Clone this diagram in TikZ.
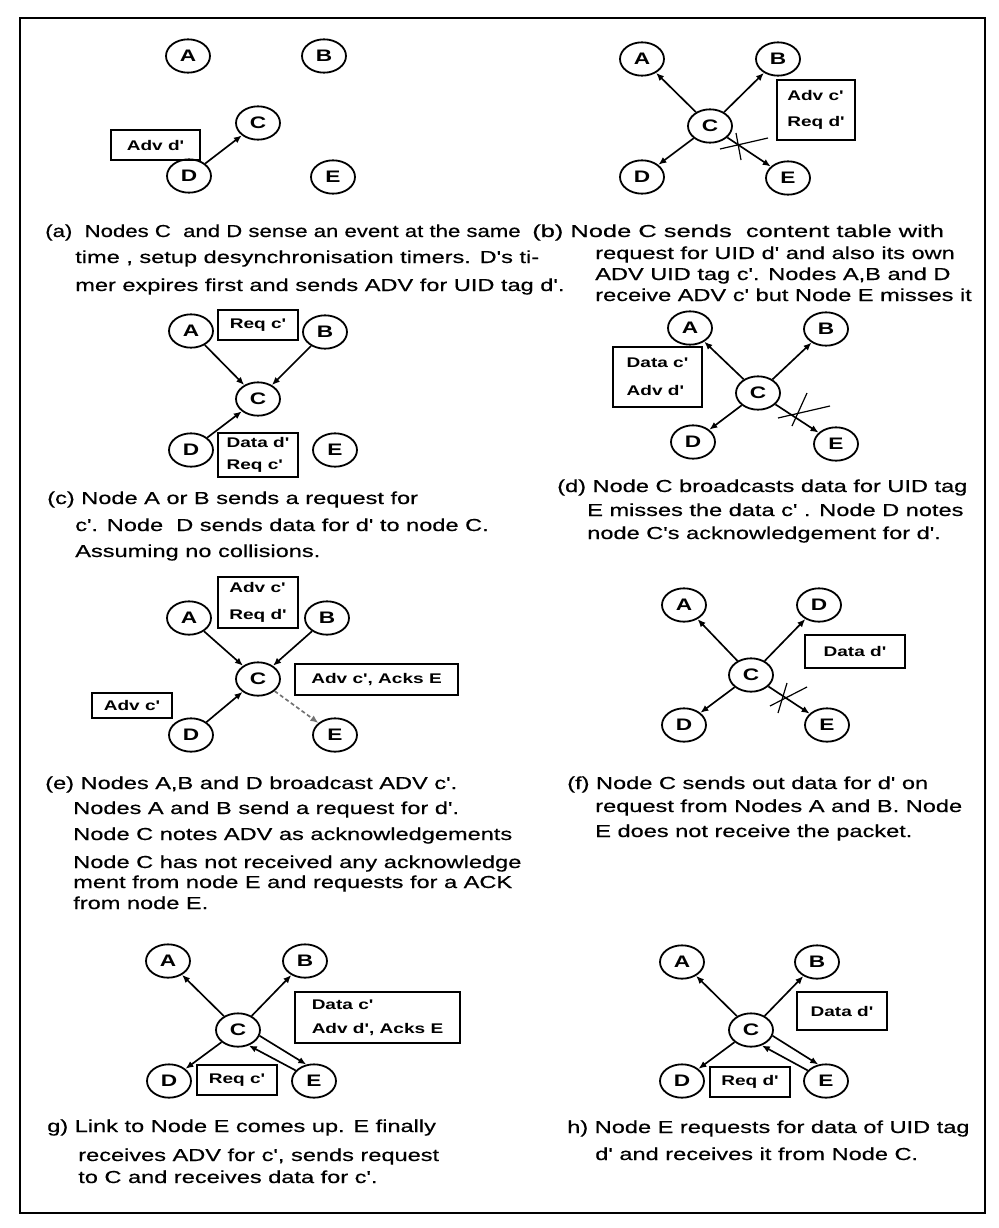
\documentclass[tikz,border=0pt]{standalone}
\usepackage{graphicx}
\usepackage{fontspec}
\setmainfont{Liberation Sans}[FakeStretch=1.36]
\newfontfamily\capfont{Liberation Sans}[FakeStretch=1.36,FakeBold=0.5]
\newfontfamily\boxfont{Liberation Sans Bold}[FakeStretch=1.36]
\usetikzlibrary{shapes.geometric,arrows.meta}
\begin{document}
\begin{tikzpicture}[x=0.75pt,y=-0.75pt,
  nd/.style={ellipse,draw,line width=1.35pt,minimum width=33pt,minimum height=25pt,inner sep=0pt,font=\fontsize{12.5}{14}\selectfont\bfseries},
  bx/.style={draw,line width=1.8pt,inner sep=0pt,align=left,font=\fontsize{10.5}{19}\boxfont},
  bsz/.style 2 args={minimum width=#1*0.75pt,minimum height=#2*0.75pt},
  captxt/.style={anchor=base west,inner sep=0pt,font=\fontsize{13}{15}\capfont},
  arr/.style={line width=1.25pt,-{Latex[length=6pt,width=5pt]}},
  darr/.style={arr,densely dashed,draw=black!55},
  crs/.style={line width=0.9pt}]
\useasboundingbox (0,0) rectangle (999,1228);
\draw[line width=1pt] (20,18) rectangle (985,1213);

% ---------------- (a)
\node[nd] (aA) at (188,56) {A};
\node[nd] (aB) at (324,56) {B};
\node[nd] (aC) at (258,123) {C};
\node[nd] (aD) at (189,176) {D};
\node[nd] (aE) at (333,177) {E};
\node[bx,bsz={89}{30}] (aX) at (155.5,145) {Adv d'};
\draw[arr] (aD) -- (aC);
\node[captxt] (a1) at (45,237) {\scalebox{0.94}[1]{(a)~ Nodes C~ and D sense an event at the same}};
\node[captxt] (a2) at (75,263) {time , setup desynchronisation timers. D's ti-};
\node[captxt] (a3) at (75,291) {mer expires first and sends ADV for UID tag d'.};

% ---------------- (b)
\node[nd] (bA) at (642,59) {A};
\node[nd] (bB) at (778,59) {B};
\node[nd] (bC) at (710,126) {C};
\node[nd] (bD) at (642,177) {D};
\node[nd] (bE) at (788,178) {E};
\node[bx,bsz={78}{60}] (bX) at (816,110) {Adv c'\\Req d'};
\draw[arr] (bC) -- (bA);
\draw[arr] (bC) -- (bB);
\draw[arr] (bC) -- (bD);
\draw[arr] (bC) -- (bE);
\draw[crs] (720,149) -- (768,138);
\draw[crs] (736,133) -- (741,160);
\node[captxt] (b1) at (532,237) {\scalebox{1.08}[1]{(b) Node C sends~ content table with}};
\node[captxt] (b2) at (595,259) {request for UID d' and also its own};
\node[captxt] (b3) at (595,280) {ADV UID tag c'. Nodes A,B and D};
\node[captxt] (b4) at (595,301) {receive ADV c' but Node E misses it};

% ---------------- (c)
\node[nd] (cA) at (191,331) {A};
\node[nd] (cB) at (325,332) {B};
\node[nd] (cC) at (258,399) {C};
\node[nd] (cD) at (191,450) {D};
\node[nd] (cE) at (335,450) {E};
\node[bx,bsz={80}{30}] (cX) at (258,325) {Req c'};
\node[bx,bsz={80}{44},font=\fontsize{10.5}{17}\boxfont] (cY) at (258,455) {Data d'\\Req c'};
\draw[arr] (cA) -- (cC);
\draw[arr] (cB) -- (cC);
\draw[arr] (cD) -- (cC);
\node[captxt] (c1) at (47,504) {(c) Node A or B sends a request for};
\node[captxt] (c2) at (75,531) {c'. Node~ D sends data for d' to node C.};
\node[captxt] (c3) at (75,557) {Assuming no collisions.};

% ---------------- (d)
\node[nd] (dA) at (690,328) {A};
\node[nd] (dB) at (826,329) {B};
\node[nd] (dC) at (758,393) {C};
\node[nd] (dD) at (693,442) {D};
\node[nd] (dE) at (836,444) {E};
\node[bx,bsz={89}{60},font=\fontsize{10.5}{21}\boxfont] (dX) at (657.5,377) {Data c'\\Adv d'};
\draw[arr] (dC) -- (dA);
\draw[arr] (dC) -- (dB);
\draw[arr] (dC) -- (dD);
\draw[arr] (dC) -- (dE);
\draw[crs] (778,418) -- (830,406);
\draw[crs] (792,426) -- (807,393);
\node[captxt] (d1) at (557,492) {(d) Node C broadcasts data for UID tag};
\node[captxt] (d2) at (587,516) {E misses the data c' . Node D notes};
\node[captxt] (d3) at (587,539) {node C's acknowledgement for d'.};

% ---------------- (e)
\node[nd] (eA) at (189,618) {A};
\node[nd] (eB) at (327,618) {B};
\node[nd] (eC) at (258,679) {C};
\node[nd] (eD) at (191,735) {D};
\node[nd] (eE) at (335,735) {E};
\node[bx,bsz={80}{51},font=\fontsize{10.5}{20}\boxfont] (eX) at (258,602.5) {Adv c'\\Req d'};
\node[bx,bsz={163}{31}] (eY) at (376.5,679.5) {Adv c', Acks E};
\node[bx,bsz={80}{25}] (eZ) at (132,705.5) {Adv c'};
\draw[arr] (eA) -- (eC);
\draw[arr] (eB) -- (eC);
\draw[arr] (eD) -- (eC);
\draw[darr] (eC) -- (eE);
\node[captxt] (e1) at (45,789) {(e) Nodes A,B and D broadcast ADV c'.};
\node[captxt] (e2) at (73,814) {Nodes A and B send a request for d'.};
\node[captxt] (e3) at (73,840) {Node C notes ADV as acknowledgements};
\node[captxt] (e4) at (73,868) {Node C has not received any acknowledge};
\node[captxt] (e5) at (73,888) {ment from node E and requests for a ACK};
\node[captxt] (e6) at (73,909) {from node E.};

% ---------------- (f)
\node[nd] (fA) at (684,605) {A};
\node[nd] (fD1) at (819,605) {D};
\node[nd] (fC) at (751,675) {C};
\node[nd] (fD2) at (684,725) {D};
\node[nd] (fE) at (827,725) {E};
\node[bx,bsz={100}{33}] (fX) at (855,651.5) {Data d'};
\draw[arr] (fC) -- (fA);
\draw[arr] (fC) -- (fD1);
\draw[arr] (fC) -- (fD2);
\draw[arr] (fC) -- (fE);
\draw[crs] (770,706) -- (807,687);
\draw[crs] (778,713) -- (787,683);
\node[captxt] (f1) at (567,789) {(f) Node C sends out data for d' on};
\node[captxt] (f2) at (595,812) {request from Nodes A and B. Node};
\node[captxt] (f3) at (595,837) {E does not receive the packet.};

% ---------------- (g)
\node[nd] (gA) at (168,961) {A};
\node[nd] (gB) at (305,961) {B};
\node[nd] (gC) at (238,1030) {C};
\node[nd] (gD) at (169,1081) {D};
\node[nd] (gE) at (314,1081) {E};
\node[bx,bsz={165}{51},font=\fontsize{10.5}{18}\boxfont] (gX) at (377.5,1017.5) {Data c'\\Adv d', Acks E};
\node[bx,bsz={80}{30}] (gY) at (237,1080) {Req c'};
\draw[arr] (gC) -- (gA);
\draw[arr] (gC) -- (gB);
\draw[arr] (gC) -- (gD);
\draw[arr] (gC.-15) -- (gE.115);
\draw[arr] (gE.150) -- (gC.-55);
\node[captxt] (g1) at (47,1132) {g) Link to Node E comes up. E finally};
\node[captxt] (g2) at (78,1161) {receives ADV for c', sends request};
\node[captxt] (g3) at (78,1183) {to C and receives data for c'.};

% ---------------- (h)
\node[nd] (hA) at (682,962) {A};
\node[nd] (hB) at (817,962) {B};
\node[nd] (hC) at (751,1030) {C};
\node[nd] (hD) at (682,1081) {D};
\node[nd] (hE) at (826,1081) {E};
\node[bx,bsz={90}{38}] (hX) at (842,1011) {Data d'};
\node[bx,bsz={80}{30}] (hY) at (750,1082) {Req d'};
\draw[arr] (hC) -- (hA);
\draw[arr] (hC) -- (hB);
\draw[arr] (hC) -- (hD);
\draw[arr] (hC.-15) -- (hE.115);
\draw[arr] (hE.150) -- (hC.-55);
\node[captxt] (h1) at (567,1133) {h) Node E requests for data of UID tag};
\node[captxt] (h2) at (595,1160) {d' and receives it from Node C.};
\end{tikzpicture}
\end{document}
